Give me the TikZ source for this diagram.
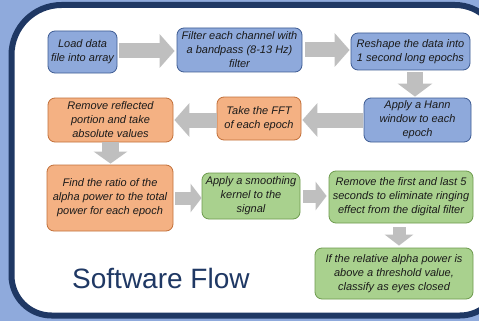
\documentclass[tikz,border=0pt]{standalone}
\usepackage{fontspec}
\setmainfont{Liberation Sans}
\usetikzlibrary{arrows.meta,calc}
\definecolor{bgblue}{HTML}{8FAADC}
\definecolor{navy}{HTML}{1F3864}
\definecolor{bluefill}{HTML}{8EA9DB}
\definecolor{bluedraw}{HTML}{3E5C93}
\definecolor{orfill}{HTML}{F4B183}
\definecolor{ordraw}{HTML}{C2703A}
\definecolor{grfill}{HTML}{A9D18E}
\definecolor{grdraw}{HTML}{6E9B4E}
\definecolor{arrgray}{HTML}{BFBFBF}
\definecolor{txt}{HTML}{1A1A1A}
\tikzset{
  stepbox/.style={rounded corners=7pt, line width=0.8pt, inner sep=0pt, align=center,
    text=txt, font=\fontsize{11}{14}\selectfont\itshape},
  bluebox/.style={stepbox, fill=bluefill, draw=bluedraw},
  orbox/.style={stepbox, fill=orfill, draw=ordraw},
  grbox/.style={stepbox, fill=grfill, draw=grdraw},
  blockarrow/.style={draw=arrgray, line width=15pt,
    -{Triangle[length=15pt, width=33pt, fill=arrgray]}},
  smallarrow/.style={draw=arrgray, line width=13pt,
    -{Triangle[length=11pt, width=28pt, fill=arrgray]}}
}
\begin{document}
\begin{tikzpicture}[x=1pt,y=-1pt]
\useasboundingbox (0,0) rectangle (479,321);
\fill[bgblue] (0,0) rectangle (479,321);
\begin{scope}[y=1pt]
\clip (0,0) rectangle (479,-321);
\draw[navy, line width=6pt, fill=white]
  (61.5,-5) -- (455,-5) arc[start angle=90, end angle=0, radius=45] -- (500,-275.5)
  arc[start angle=0, end angle=-90, radius=40] -- (51.5,-315.5)
  arc[start angle=270, end angle=180, radius=40] -- (11.5,-55)
  arc[start angle=180, end angle=90, radius=50] -- cycle;
\end{scope}

\node[bluebox, minimum width=69pt, minimum height=42pt] (b1) at (82.5,52) {Load data\\file into array};
\node[bluebox, minimum width=125pt, minimum height=44pt] (b2) at (239.5,50) {Filter each channel with\\a bandpass (8-13 Hz)\\filter};
\node[bluebox, minimum width=119pt, minimum height=37pt] (b3) at (410.5,51.5) {Reshape the data into\\1 second long epochs};
\node[bluebox, minimum width=107pt, minimum height=44pt] (b4) at (417.5,120) {Apply a Hann\\window to each\\epoch};
\node[orbox, minimum width=84pt, minimum height=43pt] (b5) at (259,118.5) {Take the FFT\\of each epoch};
\node[orbox, minimum width=125pt, minimum height=44pt] (b6) at (110.5,120) {Remove reflected\\portion and take\\absolute values};
\node[orbox, minimum width=126pt, minimum height=66pt] (b7) at (110,198) {Find the ratio of the\\alpha power to the total\\power for each epoch};
\node[grbox, minimum width=98pt, minimum height=46pt] (b8) at (251,196) {Apply a smoothing\\kernel to the\\signal};
\node[grbox, minimum width=144pt, minimum height=52pt] (b9) at (401,197) {Remove the first and last 5\\seconds to eliminate ringing\\effect from the digital filter};
\node[grbox, minimum width=158pt, minimum height=51pt] (b10) at (394,273.5) {If the relative alpha power is\\above a threshold value,\\classify as eyes closed};

\node[anchor=base west, inner sep=0pt, text=navy, font=\fontsize{28}{30}\selectfont] (title) at (72,288) {Software Flow};

\coordinate (a1s) at ($(b1.east)+(0,-1)$);
\coordinate (a3s) at ($(b3.south)+(4.5,0)$);
\coordinate (a9s) at ($(b9.south)+(-2,0)$);
\draw[blockarrow, shorten <=2pt, shorten >=2pt] (a1s) -- (a1s -| b2.west);
\draw[blockarrow, shorten <=3pt, shorten >=1pt] (b2.east) -- (b2.east -| b3.west);
\draw[blockarrow, line width=16pt, -{Triangle[length=13pt, width=34pt, fill=arrgray]}, shorten <=2pt, shorten >=1pt] (a3s) -- (a3s |- b4.north);
\draw[blockarrow, shorten <=1pt, shorten >=1pt] (b4.west) -- (b4.west -| b5.east);
\draw[blockarrow, shorten <=0pt, shorten >=1pt] (b5.west |- b6.east) -- (b6.east);
\draw[blockarrow, line width=17pt, -{Triangle[length=12pt, width=33pt, fill=arrgray]}, shorten <=0pt, shorten >=1pt] (b6.south) -- (b6.south |- b7.north);
\draw[smallarrow, shorten <=2pt, shorten >=0pt] (b7.east) -- (b7.east -| b8.west);
\draw[smallarrow, shorten <=3pt, shorten >=2pt] (b8.east) -- (b8.east -| b9.west);
\draw[smallarrow, shorten <=4pt, shorten >=2pt] (a9s) -- (a9s |- b10.north);
\end{tikzpicture}
\end{document}
